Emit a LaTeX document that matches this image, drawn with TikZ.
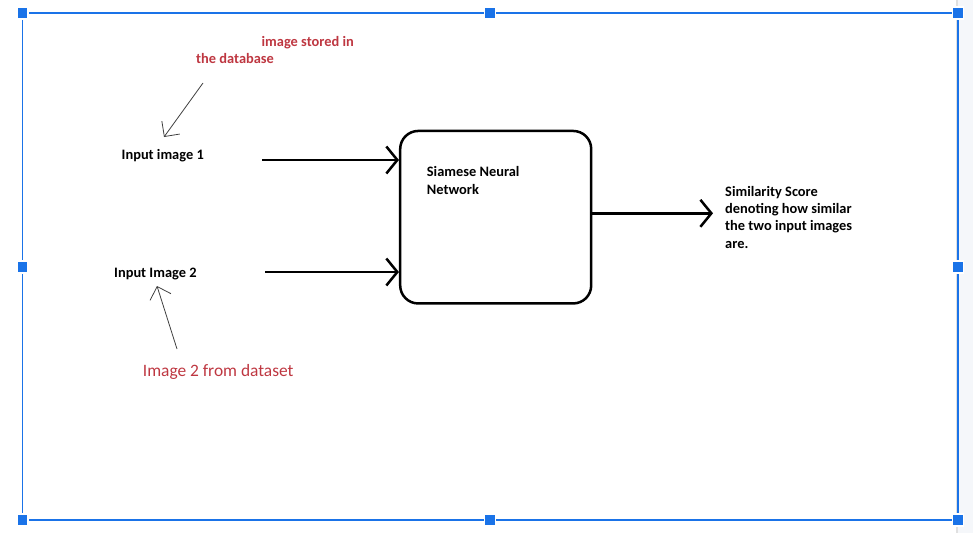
\documentclass[tikz,border=0pt]{standalone}
\usepackage{fontspec}
\setmainfont{Carlito}
\usetikzlibrary{arrows.meta}
\definecolor{selblue}{HTML}{1A73E8}
\definecolor{notered}{RGB}{190,55,65}
\definecolor{stripgray}{HTML}{F5F7FA}
\tikzstyle{lbl}=[inner sep=0pt, anchor=base west, align=left, font=\bfseries\fontsize{14.4}{17.3}\selectfont]
\tikzstyle{redlbl}=[lbl, text=notered]
\tikzstyle{flow}=[line width=2.5pt, -{Straight Barb[length=11pt, width=27pt]}]
\tikzstyle{note}=[line width=0.8pt, black!75, -{Straight Barb[length=11pt, width=22pt]}]
\tikzstyle{handle}=[fill=selblue, draw=white, line width=1.5pt]

\begin{document}
\begin{tikzpicture}[x=1pt, y=-1pt]
    \useasboundingbox (0,0) rectangle (973,533);
    \fill[stripgray] (956,0) rectangle (973,533);
    \draw[black!12, line width=2pt] (956.5,0) -- (956.5,533);
    \draw[selblue, line width=1.3pt] (22.5,13) rectangle (958,520);
    \foreach \hx/\hy in {22.5/13, 490/13, 958/13, 22.5/267, 958/267, 22.5/520, 490/520, 958/520}
        \draw[handle] (\hx-5.5,\hy-6) rectangle +(11,12);

    \node[redlbl] (stored) at (261.5,46) {image stored in};
    \node[redlbl] (database) at (196,63.3) {the database};
    \node[lbl] (in1) at (121.5,159.3) {Input image 1};
    \node[lbl] (in2) at (114,277.5) {Input Image 2};
    \node[redlbl, font=\fontsize{17.4}{20}\selectfont] (fromset) at (142.7,376.7) {Image 2 from dataset};
    \node[draw, line width=2.5pt, rounded corners=18pt, minimum width=191pt, minimum height=172.5pt] (snn) at (495.7,217.2) {};
    \node[lbl] (snntext) at (426.7,194) {Siamese Neural\\Network};
    \node[lbl] (score) at (725,248) {Similarity Score\\denoting how similar\\the two input images\\are.};

    \coordinate (tail1) at (262,160);
    \coordinate (tail2) at (265,272);
    \coordinate (outtip) at (713,213.3);
    \coordinate (note1) at (203,83);
    \coordinate (note1tip) at (164,137);
    \coordinate (note2) at (177,349);
    \coordinate (note2tip) at (157,286);

    \draw[flow] (tail1) -- (tail1 -| snn.west);
    \draw[flow] (tail2) -- (tail2 -| snn.west);
    \draw[flow] (snn.east |- outtip) -- (outtip);
    \draw[note] (note1) -- (note1tip);
    \draw[note] (note2) -- (note2tip);
\end{tikzpicture}
\end{document}
